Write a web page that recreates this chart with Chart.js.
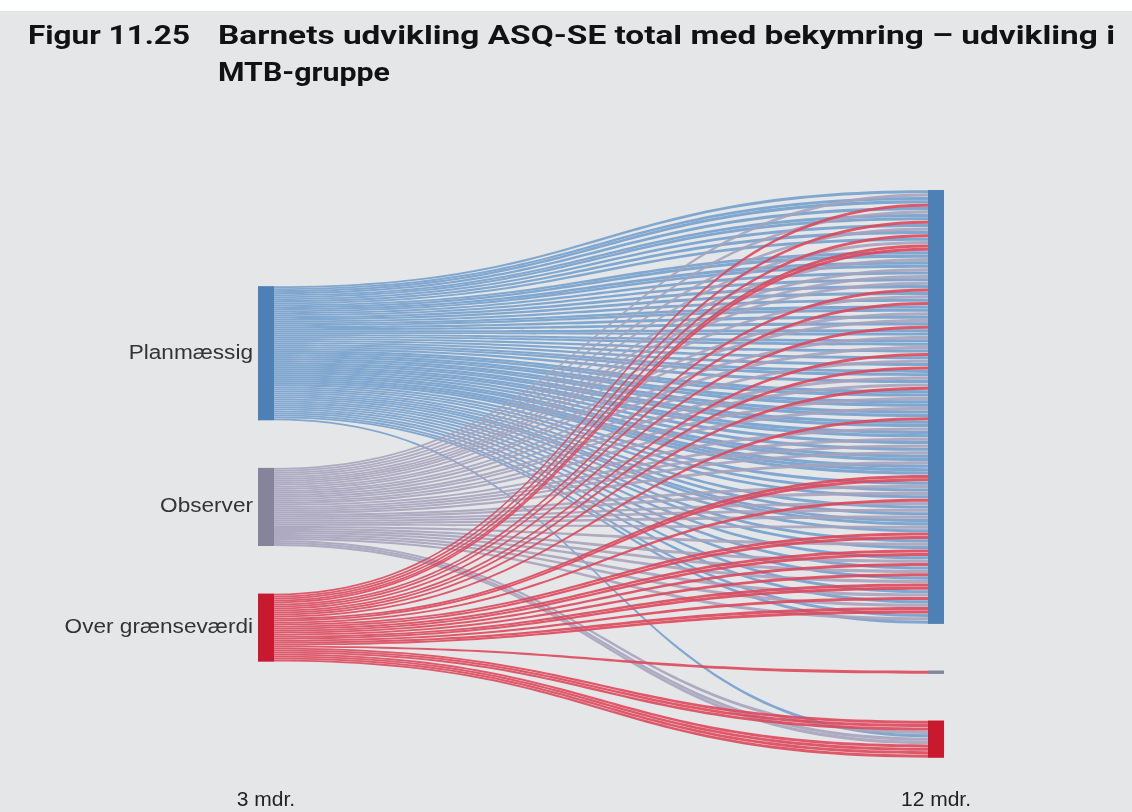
<!DOCTYPE html>
<html>
<head>
<meta charset="utf-8">
<script src="https://cdn.jsdelivr.net/npm/chart.js@4.4.1/dist/chart.umd.min.js"></script>
<style>
    html, body { margin: 0; padding: 0; background: #e5e6e7; overflow: hidden; }
    #wrap { position: relative; width: 1132px; height: 812px; overflow: hidden; background: #e5e6e7; }
    #topStrip { position: absolute; left: 0; top: 0; width: 1132px; height: 11px; background: #ffffff; }
    .title { position: absolute; font-family: Roboto, 'Liberation Sans', sans-serif; font-weight: 700; font-size: 25px;
             line-height: 30px; color: #121212; white-space: nowrap; transform-origin: 0 0; }
    canvas { position: absolute; left: 0; top: 0; }
</style>
</head>
<body>
<div id="wrap">
    <div id="topStrip"></div>
    <canvas id="sankeyChart" width="1132" height="843"></canvas>
    <div class="title" id="figNo" style="left:28px; top:21px">Figur 11.25</div>
    <div class="title" id="titleLine1" style="left:218px; top:21px">Barnets udvikling ASQ-SE total med bekymring – udvikling i</div>
    <div class="title" id="titleLine2" style="left:218px; top:58px">MTB-gruppe</div>
</div>
<script>
// categories (same at both time points)
const categories = ['Planmæssig', 'Observer', 'Over grænseværdi'];
const periodLabels = ['3 mdr.', '12 mdr.'];

// number of children going from each 3 mdr. group to [Planmæssig, Observer, Over grænseværdi] at 12 mdr.
const fromPlanmaessig = [66, 0, 1];
const fromObserver = [36, 0, 3];
const fromOverGraense = [26, 1, 7];

// order of the arriving lines at each 12 mdr. group, top to bottom (P/O/R = source group)
const arrivalPlanmaessig =
    'POPPRPOPPRPOPRPO' + 'RRPPOPPOPOPOPRPO' + 'PRPPOPOPRPPOPPOP' + 'RPOPRPPOPORPPOPP' +
    'OPPRPPOPPOPOPOPP' + 'OPPPRRPOPOPROPOP' + 'OPPOPRRPOPRRPORP' + 'ORPORRPORPORRPOP';
const arrivalObserver = 'R';
const arrivalOverGraense = 'RRROPOORRRR';

const nodeColors = ['#4d80b4', '#86849b', '#c8192f'];
const flowColors = ['rgba(116, 160, 205, 0.9)', 'rgba(166, 163, 189, 0.9)', 'rgba(221, 72, 92, 0.9)'];

const NODE_W = 16;
const LEFT_GAP = 23.75;   // in left axis units
const RIGHT_GAP = 13.75;  // in right axis units
const LINE_GAP = 0.05;

DocumentReady();

function DocumentReady() {
    fitTitle();

    const flows = [fromPlanmaessig, fromObserver, fromOverGraense];
    const arrivals = [arrivalPlanmaessig, arrivalObserver, arrivalOverGraense];
    const code = { P: 0, O: 1, R: 2 };

    const leftCounts = flows.map(f => f.reduce((a, b) => a + b, 0));
    const rightCounts = [0, 1, 2].map(t => flows.reduce((a, f) => a + f[t], 0));

    const leftStart = [];
    const rightStart = [];
    let acc = 0;
    leftCounts.forEach((c) => { leftStart.push(acc); acc += c + LEFT_GAP; });
    acc = 0;
    rightCounts.forEach((c) => { rightStart.push(acc); acc += c + RIGHT_GAP; });
    const rightMax = rightStart[2] + rightCounts[2];

    // every child is one line: right slot from the arrival order
    const lines = [];
    arrivals.forEach((seq, t) => {
        if (seq.length !== rightCounts[t]) console.warn('arrival order does not match flows', t);
        seq.split('').forEach((ch, k) => {
            lines.push({ src: code[ch], tgt: t, r0: rightStart[t] + k });
        });
    });
    // left slots: within each source, ordered by where the line ends
    [0, 1, 2].forEach(s => {
        lines.filter(l => l.src === s)
            .sort((a, b) => a.r0 - b.r0)
            .forEach((l, k) => { l.l0 = leftStart[s] + k; });
    });
    lines.sort((a, b) => a.src - b.src);

    const sankeyPlugin = {
        id: 'sankeyLines',
        afterDatasetsDraw(chart) {
            const { ctx, scales: { x, yL, yR } } = chart;
            const xl = x.getPixelForValue(0) + NODE_W / 2;
            const xr = x.getPixelForValue(1) - NODE_W / 2;
            const xm = (xl + xr) / 2;
            ctx.save();
            lines.forEach(l => {
                const a0 = yL.getPixelForValue(l.l0 + LINE_GAP);
                const a1 = yL.getPixelForValue(l.l0 + 1 - LINE_GAP);
                const b0 = yR.getPixelForValue(l.r0 + LINE_GAP);
                const b1 = yR.getPixelForValue(l.r0 + 1 - LINE_GAP);
                ctx.beginPath();
                ctx.moveTo(xl, a0);
                ctx.bezierCurveTo(xm, a0, xm, b0, xr, b0);
                ctx.lineTo(xr, b1);
                ctx.bezierCurveTo(xm, b1, xm, a1, xl, a1);
                ctx.closePath();
                ctx.fillStyle = flowColors[l.src];
                ctx.fill();
            });

            // nodes
            categories.forEach((name, i) => {
                const top = yL.getPixelForValue(leftStart[i]);
                const bottom = yL.getPixelForValue(leftStart[i] + leftCounts[i]);
                ctx.fillStyle = nodeColors[i];
                ctx.fillRect(xl - NODE_W, top, NODE_W, bottom - top);

                const rt = yR.getPixelForValue(rightStart[i]);
                const rb = yR.getPixelForValue(rightStart[i] + rightCounts[i]);
                ctx.fillRect(xr, rt, NODE_W, rb - rt);

                // label, slightly widened like the source
                ctx.save();
                ctx.translate(xl - NODE_W - 5, (top + bottom) / 2);
                ctx.scale(1.13, 1);
                ctx.font = '20px "Liberation Sans", Arial, sans-serif';
                ctx.fillStyle = '#333333';
                ctx.textAlign = 'right';
                ctx.textBaseline = 'middle';
                ctx.fillText(name, 0, 0);
                ctx.restore();
            });
            ctx.restore();
        }
    };

    new Chart(document.getElementById('sankeyChart'), {
        type: 'scatter',
        data: { datasets: [{ data: [], xAxisID: 'x', yAxisID: 'yR' }] },
        options: {
            responsive: false,
            animation: false,
            layout: { padding: { left: 266, right: 196, top: 190, bottom: 0 } },
            plugins: { legend: { display: false }, tooltip: { enabled: false } },
            scales: {
                x: {
                    type: 'linear', min: 0, max: 1,
                    grid: { display: false, drawTicks: false },
                    border: { display: false },
                    afterBuildTicks: (scale) => { scale.ticks = [{ value: 0 }, { value: 1 }]; },
                    ticks: {
                        padding: 30, maxRotation: 0, minRotation: 0,
                        color: '#222222',
                        font: { family: 'Liberation Sans', size: 21 },
                        callback: (v) => v === 0 ? periodLabels[0] : (v === 1 ? periodLabels[1] : '')
                    }
                },
                yR: { type: 'linear', display: false, reverse: true, min: 0, max: rightMax },
                yL: { type: 'linear', display: false, reverse: true, min: -48, max: 235.5 }
            }
        },
        plugins: [sankeyPlugin]
    });
}

function fitTitle() {
    const widths = { figNo: 162, titleLine1: 897, titleLine2: 172 };
    Object.keys(widths).forEach(id => {
        const el = document.getElementById(id);
        const k = widths[id] / el.getBoundingClientRect().width;
        el.style.transform = 'scaleX(' + k + ')';
    });
}
</script>
</body>
</html>
